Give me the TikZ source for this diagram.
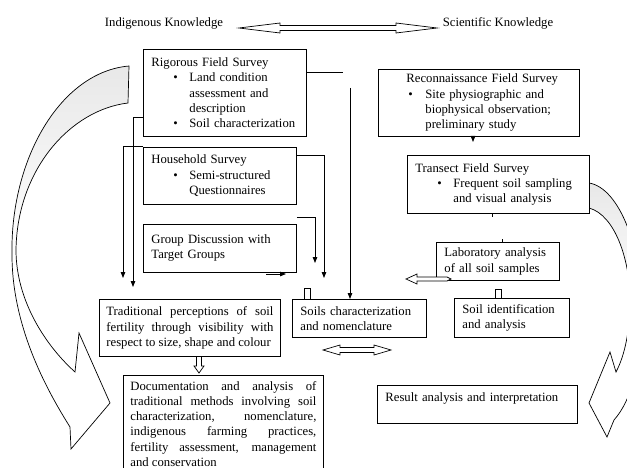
\documentclass[tikz,border=0pt]{standalone}
\usepackage{fontspec}
\setmainfont{Liberation Serif}
\usetikzlibrary{arrows.meta, positioning}

\newcommand{\bul}{\hspace*{22pt}\makebox[16pt][l]{\textbullet}}
\newcommand{\ind}{\hspace*{38pt}}

\tikzset{
  box/.style={draw, fill=white, line width=0.8pt, anchor=north west, align=left, inner xsep=8pt, inner ysep=3pt},
  arr/.style={line width=0.8pt, -{Triangle[length=6pt,width=4.5pt]}},
  link/.style={line width=0.8pt},
  hollow/.style={draw, fill=white, line width=0.7pt},
  bigarrow/.style={draw, line width=0.7pt, top color=gray!18, bottom color=white, middle color=white}
}

\begin{document}
\begin{tikzpicture}[x=1pt, y=-1pt, font=\fontsize{12.7}{15.3}\selectfont]
  \useasboundingbox (0,0) rectangle (627,468);
  \clip (0,0) rectangle (627,468);

  % curved arrows behind everything
  \path[bigarrow] (129,66) .. controls (60,72) and (10,160) .. (12,255)
     .. controls (12,330) and (50,395) .. (70,427)
     -- (71,449) -- (110,403) -- (79,333) -- (75,372)
     .. controls (45,345) and (16,300) .. (16,250)
     .. controls (17,170) and (70,110) .. (128,103) -- cycle;
  \path[bigarrow] (589,183) .. controls (620,188) and (642,250) .. (642,310)
     .. controls (642,360) and (632,400) .. (614,420)
     -- (607,437) -- (589,403) -- (610,352) -- (616,372)
     .. controls (625,355) and (630,330) .. (630,300)
     .. controls (630,260) and (615,215) .. (589,208) -- cycle;

  \node (indig) at (164,23) {Indigenous Knowledge};
  \node (scien) at (498,23) {Scientific Knowledge};

  \node[box, text width=147pt, minimum height=87pt] (rigorous) at (143,49)
    {Rigorous Field Survey\\ \bul Land condition\\ \ind assessment and\\ \ind description\\ \bul Soil characterization};
  \node[box, text width=137pt, minimum height=57pt, below=10pt of rigorous.south west, anchor=north west] (household)
    {Household Survey\\ \bul Semi-structured\\ \ind Questionnaires};
  \node[box, text width=137pt, minimum height=48pt, below=19pt of household.south west, anchor=north west] (group)
    {Group Discussion with\\ Target Groups};
  \node[box, text width=185pt, minimum height=67pt] (recon) at (378,69)
    {\hspace*{20pt}Reconnaissance Field Survey\\ \hspace*{22pt}\makebox[17pt][l]{\textbullet}Site physiographic and\\ \hspace*{39pt}biophysical observation;\\ \hspace*{39pt}preliminary study};
  \node[box, text width=166pt, minimum height=58pt] (transect) at (407,155)
    {Transect Field Survey\\ \bul Frequent soil sampling\\ \ind and visual analysis};
  \node[box, text width=107pt, minimum height=38pt] (lab) at (436,242) {Laboratory analysis\\ of all soil samples};
  \node[box, text width=99pt, minimum height=39pt] (soilid) at (454,298) {Soil identification\\ and analysis};
  \node[box, text width=118pt, minimum height=38pt] (soils) at (292,299) {Soils characterization\\ and nomenclature};
  \node[box, inner xsep=7pt, text width=167pt, minimum height=57pt, align=justify] (trad) at (99,299)
    {Traditional perceptions of soil\linebreak fertility through visibility with\linebreak respect to size, shape and colour};
  \node[box, inner xsep=7pt, text width=186pt, minimum height=97pt, align=justify] (doc) at (123,375)
    {Documentation and analysis of\linebreak traditional methods involving soil\linebreak characterization, nomenclature,\linebreak indigenous farming practices,\linebreak fertility assessment, management\linebreak and conservation};
  \node[box, text width=184pt, minimum height=38pt] (result) at (377,385) {Result analysis and interpretation\\ \mbox{}};

  % free ends of the connectors
  \coordinate (rgend) at (343,72);
  \coordinate (vtop) at (350,88);
  \coordinate (hhend) at (324,278);
  \coordinate (grend) at (315,263);
  \coordinate (gsa) at (266,274);
  \coordinate (rlend) at (133,287);
  \coordinate (hlend) at (123,278);
  \coordinate (rtick) at (473,142);

  \draw[link] (rigorous.east |- rgend) -- (rgend);
  \draw[arr] (vtop) -- (vtop |- soils.north);
  \draw[arr] (household.east |- 0,155) -| (hhend);
  \draw[arr] (group.east |- 0,217) -| (grend);
  \draw[arr] (gsa) -- ++(20,0);
  \draw[arr] (rigorous.west |- 0,117) -| (rlend);
  \draw[arr] (household.north west) -| (hlend);
  \draw[arr] (recon.south -| rtick) -- (rtick);
  \draw[link] (transect.south -| 492,0) -- ++(0,3);
  \draw[link] (lab.north -| 502,0) -- ++(0,-3);

  % hollow arrows
  \coordinate (kl) at (239,28);
  \draw[hollow] (kl) -- ++(41,-5) -- ++(0,2.5) -- ++(116,0) -- ++(0,-2.5) -- ++(41,5)
    -- ++(-41,5) -- ++(0,-2.5) -- ++(-116,0) -- ++(0,2.5) -- cycle;
  \coordinate (sdl) at (323,350);
  \draw[hollow] (sdl) -- ++(17,-5) -- ++(0,2.5) -- ++(34,0) -- ++(0,-2.5) -- ++(17,5)
    -- ++(-17,5) -- ++(0,-2.5) -- ++(-34,0) -- ++(0,2.5) -- cycle;
  \coordinate (lal) at (406,279);
  \draw[hollow] (lal) -- ++(11,-5) -- ++(0,3) -- ++(30,0) -- ++(4,2) -- ++(-4,2)
    -- ++(-30,0) -- ++(0,3) -- cycle;
  \coordinate (tda) at (196.5,357);
  \draw[hollow] (tda) -- ++(0,9) -- ++(-2.5,0) -- ++(5,7) -- ++(5,-7) -- ++(-2.5,0) -- ++(0,-9);
  \coordinate (sot) at (304,299);
  \draw[link, line width=0.7pt] (sot) -- ++(0,-11) -- ++(6,0) -- ++(0,11);
  \coordinate (sit) at (495,298);
  \draw[link, line width=0.7pt] (sit) -- ++(0,-9) -- ++(6,0) -- ++(0,9);
\end{tikzpicture}
\end{document}
